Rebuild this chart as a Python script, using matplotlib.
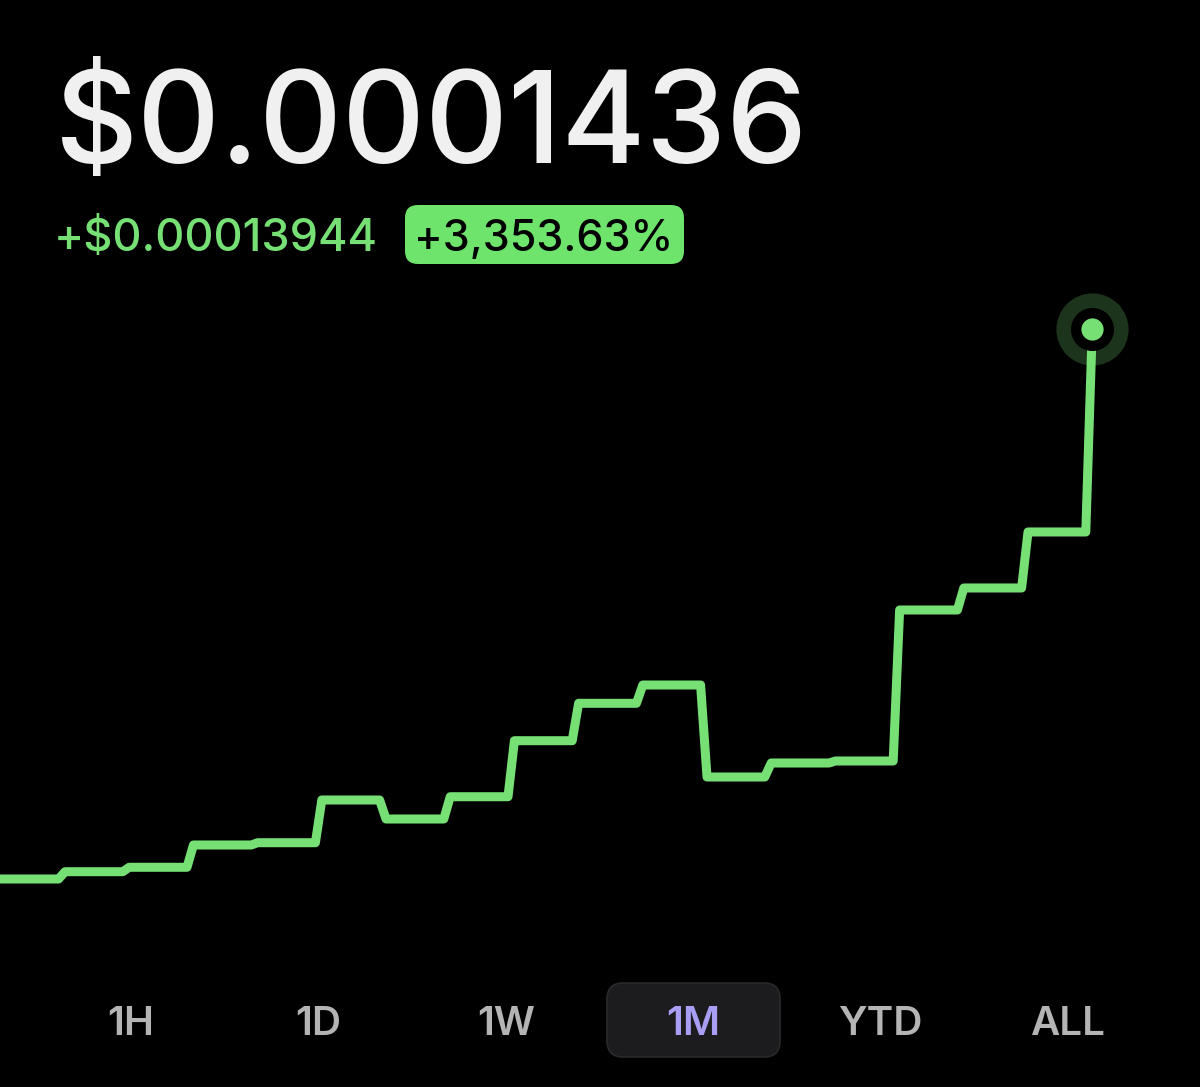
import numpy as np
import matplotlib.pyplot as plt
from matplotlib.patches import FancyBboxPatch

# price levels (dollars) for each step
levels = [0.00000416, 0.00000601, 0.00000713, 0.00001278, 0.00001336,
          0.00002419, 0.00001937, 0.00002502, 0.00003922, 0.00004870,
          0.00005334, 0.00003002, 0.00003357, 0.00003408, 0.00007236,
          0.00007794, 0.00009214]
last_price = 0.0001436
change = 0.00013944
change_pct = 3353.63

price_text = "$0.0001436"
change_text = "+$0.00013944"
pct_text = "+3,353.63%"
ranges = ["1H", "1D", "1W", "1M", "YTD", "ALL"]
active = "1M"

GREEN = "#77e075"
plt.rcParams['font.family'] = ['Inter', 'DejaVu Sans']

W, H = 1200, 1087
fig = plt.figure(figsize=(W / 100, H / 100), dpi=100, facecolor="black")

# line chart: each level is flat for most of a slot, then a short ramp
ax = fig.add_axes([0, 0, 1, 1])
ax.set_facecolor("black")
t, p = [], []
for i, v in enumerate(levels):
    t += [i + 0.1, i + 1.0]
    p += [v, v]
t[0] = 0.0
t.append(len(levels) + 0.1)
p.append(last_price)

px_per_t = 64.2
x0 = -5.6
ax.set_xlim(-x0 / px_per_t, (W - x0) / px_per_t)
per_px = (last_price - levels[0]) / (879 - 329)
ax.set_ylim(levels[0] - (H - 879) * per_px, levels[0] + 879 * per_px)
ax.axis("off")

ax.plot(t[-1], p[-1], "o", ms=52, color="#1c331c", mec="none", zorder=1)
ax.plot(t, p, color=GREEN, lw=6.5, solid_joinstyle="round",
        solid_capstyle="round", zorder=2)
ax.plot(t[-1], p[-1], "o", ms=31, color="black", mec="none", zorder=3)
ax.plot(t[-1], p[-1], "o", ms=16, color=GREEN, mec="none", zorder=4)

# overlay in pixel coordinates for the UI text
ui = fig.add_axes([0, 0, 1, 1])
ui.set_xlim(0, W)
ui.set_ylim(H, 0)
ui.axis("off")
ui.patch.set_alpha(0)

ui.text(55, 163, price_text, fontsize=92.5, color="#f0f0f0",
        fontweight="medium", ha="left", va="baseline")
ui.text(54, 251, change_text, fontsize=32.5, color=GREEN,
        fontweight="medium", ha="left", va="baseline")
ui.add_patch(FancyBboxPatch((405, 205), 279, 59,
                            boxstyle="round,pad=0,rounding_size=13",
                            fc="#6ee46c", ec="none"))
ui.text(544, 251, pct_text, fontsize=31, color="black",
        fontweight="medium", ha="center", va="baseline")

xs = np.linspace(131, 1068, len(ranges))
for x, r in zip(xs, ranges):
    if r == active:
        ui.add_patch(FancyBboxPatch((607, 983), 173, 74,
                                    boxstyle="round,pad=0,rounding_size=16",
                                    fc="#1c1c1e", ec="#2a2a2c", lw=1.2))
        col = "#a89ff5"
    else:
        col = "#b4b4b4"
    ui.text(x, 1035, r, fontsize=29, color=col, fontweight="semibold",
            ha="center", va="baseline")

fig.savefig("out.png", dpi=100, facecolor="black")
